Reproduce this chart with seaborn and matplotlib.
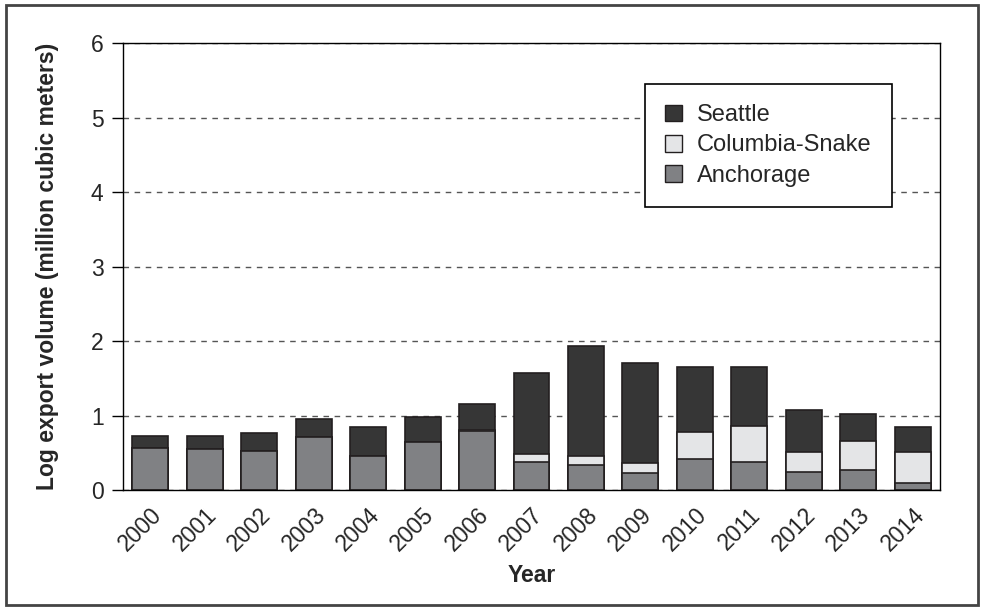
import numpy as np
import pandas as pd
import matplotlib.pyplot as plt
from matplotlib.patches import Patch, Rectangle
import seaborn as sns

# datos (segmentos de cada barra apilada)
years = [str(y) for y in range(2000, 2015)]
anchorage = [0.57, 0.55, 0.53, 0.71, 0.46, 0.64, 0.79, 0.38, 0.34, 0.23, 0.42, 0.37, 0.24, 0.27, 0.095]
columbia = [0.0, 0.0, 0.0, 0.0, 0.0, 0.0, 0.02, 0.11, 0.12, 0.13, 0.36, 0.49, 0.27, 0.39, 0.415]
seattle = [0.15, 0.17, 0.23, 0.24, 0.39, 0.34, 0.35, 1.08, 1.47, 1.34, 0.87, 0.79, 0.56, 0.36, 0.33]

sns.set_style('white')
plt.rcParams['font.family'] = ['Liberation Sans', 'DejaVu Sans']

df = pd.DataFrame({'year': years, 'Anchorage': anchorage,
                   'Columbia-Snake': columbia, 'Seattle': seattle})
df['cum_col'] = df['Anchorage'] + df['Columbia-Snake']
df['total'] = df['cum_col'] + df['Seattle']

colores = {'Seattle': '#363636', 'Columbia-Snake': '#e4e5e7', 'Anchorage': '#808184'}
borde = '#231f20'

fig = plt.figure(figsize=(9.84, 6.10), dpi=100)
ax = fig.add_axes([0.125, 0.1967, 0.8303, 0.7328])

# capas: total, luego acumulado columbia, luego anchorage
for col, nombre in [('total', 'Seattle'), ('cum_col', 'Columbia-Snake'), ('Anchorage', 'Anchorage')]:
    sns.barplot(data=df, x='year', y=col, color=colores[nombre], saturation=1,
                width=0.66, edgecolor=borde, linewidth=1.2, errorbar=None, ax=ax)

ax.set_ylim(0, 6)
ax.set_yticks(range(0, 7))
ax.yaxis.grid(True, linestyle=(0, (4, 4)), color='#555555', linewidth=1)
ax.set_axisbelow(True)
for s in ax.spines.values():
    s.set_color('black')
    s.set_linewidth(1)

ax.tick_params(axis='y', left=True, length=8, width=1, color='black', labelsize=16.5, pad=6)
ax.tick_params(axis='x', bottom=False, labelsize=16.5, pad=6)
plt.setp(ax.get_xticklabels(), rotation=45, ha='right', rotation_mode='anchor')

ax.set_xlabel('Year', fontsize=16.5, fontweight='bold', labelpad=6)
ax.set_ylabel('Log export volume (million cubic meters)', fontsize=16.5, fontweight='bold')
ax.yaxis.set_label_coords(-0.078, 0.5)

handles = [Patch(facecolor=colores[n], edgecolor=borde, linewidth=1) for n in ['Seattle', 'Columbia-Snake', 'Anchorage']]
leg = ax.legend(handles, ['Seattle', 'Columbia-Snake', 'Anchorage'], loc='upper right',
                bbox_to_anchor=(0.941, 0.908), fontsize=17, frameon=True, fancybox=False,
                framealpha=1, edgecolor='black', handlelength=0.72, handleheight=0.72,
                handletextpad=0.65, labelspacing=0.35, borderpad=0.85, borderaxespad=0)
leg.get_frame().set_linewidth(1.2)

# marco de la figura
fig.patches.append(Rectangle((0.006, 0.008), 0.988, 0.984, transform=fig.transFigure,
                             fill=False, edgecolor='#444444', linewidth=2))

fig.savefig('out.png', dpi=100)
